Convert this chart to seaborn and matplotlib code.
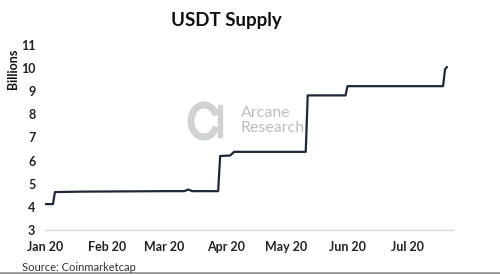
import matplotlib
matplotlib.use("Agg")
import matplotlib.pyplot as plt
from matplotlib.patches import Arc, Rectangle
import pandas as pd
import seaborn as sns

# ---- data ----
dates = ["2020-01-01", "2020-01-05", "2020-01-06", "2020-01-20", "2020-02-10",
         "2020-03-01", "2020-03-11", "2020-03-13", "2020-03-15", "2020-03-28",
         "2020-03-29", "2020-04-03", "2020-04-05", "2020-05-11", "2020-05-12",
         "2020-05-31", "2020-06-01", "2020-07-19", "2020-07-20", "2020-07-21"]
supply = [4.12, 4.12, 4.64, 4.66, 4.67,
          4.68, 4.68, 4.75, 4.68, 4.68,
          6.20, 6.22, 6.38, 6.38, 8.82,
          8.82, 9.22, 9.22, 9.95, 10.05]
month_ticks = ["2020-01-01", "2020-02-01", "2020-03-01", "2020-04-01",
               "2020-05-01", "2020-06-01", "2020-07-01"]
month_labels = ["Jan 20", "Feb 20", "Mar 20", "Apr 20", "May 20", "Jun 20", "Jul 20"]
y_ticks = [3, 4, 5, 6, 7, 8, 9, 10, 11]

df = pd.DataFrame({"date": pd.to_datetime(dates), "supply": supply})

sns.set_theme(style="white")
plt.rcParams["font.family"] = ["Lato", "DejaVu Sans"]

fig = plt.figure(figsize=(5, 2.75), dpi=100)
ax = fig.add_axes([0.09, 0.1636, 0.816, 0.6728])

sns.lineplot(data=df, x="date", y="supply", ax=ax, color="#1c2738", linewidth=1.6)

ax.set_xlim(pd.Timestamp("2020-01-01"), pd.Timestamp("2020-07-24"))
ax.set_ylim(3, 11)
ax.set_yticks(y_ticks)
ax.set_yticklabels([str(v) for v in y_ticks], fontsize=9, fontweight="bold", color="#222222")
ax.set_xticks(pd.to_datetime(month_ticks))
ax.set_xticklabels(month_labels, fontsize=9, fontweight="bold", color="#222222")
ax.set_xlabel("")
ax.set_ylabel("")

for s in ["top", "right", "left"]:
    ax.spines[s].set_visible(False)
ax.spines["bottom"].set_color("#d9d9d9")
ax.spines["bottom"].set_linewidth(1.0)
ax.tick_params(axis="x", which="major", direction="out", length=3, width=1,
               color="#d9d9d9", pad=5)
ax.tick_params(axis="y", length=0, pad=7)
ax.grid(False)

# title, axis label, source
fig.text(0.452, 0.925, "USDT Supply", ha="center", va="center",
         fontsize=13.5, fontweight="bold", color="#111111")
fig.text(0.026, 0.75, "Billions", rotation=90, ha="center", va="center",
         fontsize=9, fontweight="bold", color="#111111")
fig.text(0.044, 0.028, "Source: Coinmarketcap", ha="left", va="center",
         fontsize=8, color="#333333")
fig.add_artist(plt.Line2D([0, 1], [0.008, 0.008], transform=fig.transFigure,
                          color="#8a8a8a", linewidth=1.2))

# watermark logo
arc = Arc((204 / 500, 1 - 121 / 275), 26 / 500, 32 / 275, theta1=40, theta2=320,
          transform=fig.transFigure, color="#cfd3d2", linewidth=5)
fig.add_artist(arc)
fig.add_artist(Rectangle((218 / 500, 1 - 137 / 275), 4 / 500, 32 / 275,
                         transform=fig.transFigure, color="#cfd3d2"))
fig.text(241 / 500, 1 - 113 / 275, "Arcane", ha="left", va="center",
         fontsize=11.5, color="#bdbdbd")
fig.text(241 / 500, 1 - 128 / 275, "Research", ha="left", va="center",
         fontsize=11.5, color="#bdbdbd")

fig.savefig("out.png", dpi=100)
